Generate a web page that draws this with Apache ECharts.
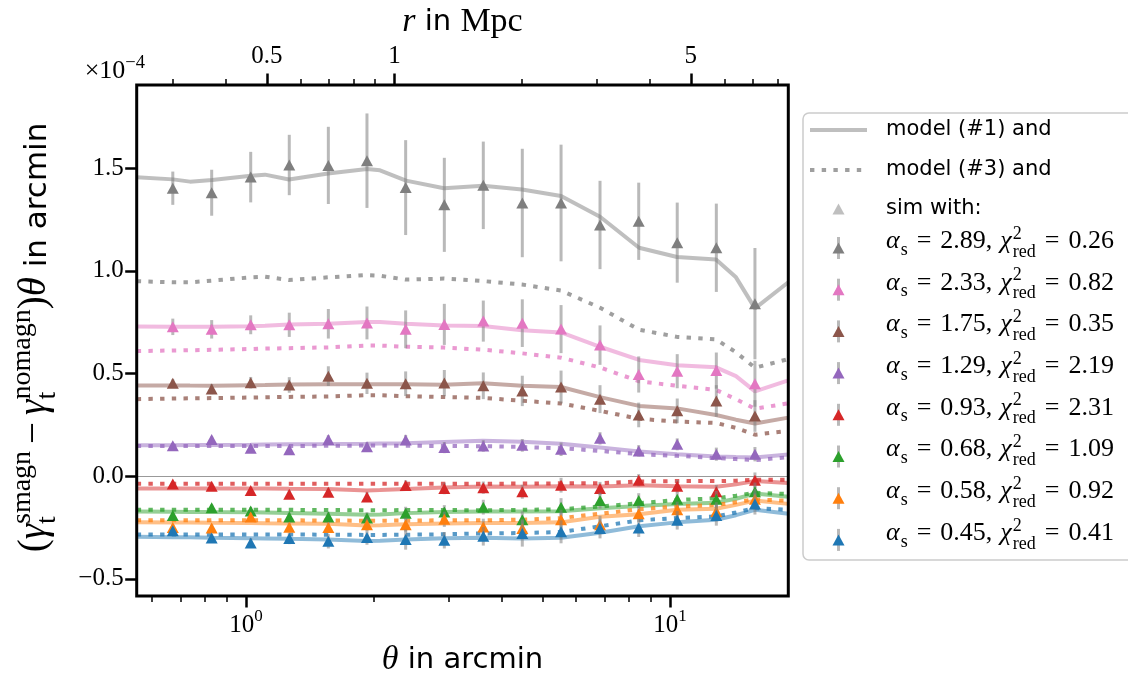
<!DOCTYPE html>
<html><head><meta charset="utf-8">
<script src="https://cdn.jsdelivr.net/npm/echarts@6/dist/echarts.min.js"></script>
<style>html,body{margin:0;padding:0;background:#fff}#c{width:1128px;height:682px}</style>
</head><body><div id="c"></div>
<script>
// ---------------- data ----------------
const thetaSim = [0.672, 0.830, 1.026, 1.265, 1.564, 1.929, 2.380, 2.936, 3.628, 4.484, 5.534, 6.838, 8.437, 10.40, 12.86, 15.86];
const thetaModel = [0.5524, 0.6727, 0.7377, 0.8316, 1.0276, 1.1087, 1.2632, 1.5612, 1.9293, 2.0703, 2.3845, 2.9309, 3.6224, 4.4771, 5.5336, 6.8391, 8.4525, 10.388, 12.838, 14.309, 15.865, 19.01];

const alphaLabels = ['2.89', '2.33', '1.75', '1.29', '0.93', '0.68', '0.58', '0.45'];
const chi2Labels  = ['0.26', '0.82', '0.35', '2.19', '2.31', '1.09', '0.92', '0.41'];
const colors = ['#7f7f7f', '#e377c2', '#8c564b', '#9467bd', '#d62728', '#2ca02c', '#ff7f0e', '#1f77b4'];

const sim_289 = [1.402,1.380,1.456,1.515,1.513,1.536,1.405,1.321,1.416,1.330,1.330,1.223,1.241,1.137,1.112,0.840];
const err_289 = [0.081,0.112,0.123,0.147,0.188,0.230,0.231,0.229,0.213,0.264,0.284,0.215,0.188,0.195,0.215,0.271];
const sim_233 = [0.727,0.715,0.737,0.737,0.742,0.746,0.715,0.739,0.755,0.745,0.716,0.638,0.495,0.511,0.514,0.450];
const err_233 = [0.040,0.045,0.046,0.059,0.072,0.080,0.092,0.100,0.100,0.116,0.117,0.096,0.088,0.083,0.088,0.112];
const sim_175 = [0.452,0.424,0.455,0.444,0.487,0.452,0.450,0.453,0.440,0.415,0.434,0.375,0.298,0.318,0.366,0.293];
const err_175 = [0.020,0.025,0.028,0.038,0.048,0.052,0.060,0.064,0.065,0.074,0.080,0.068,0.060,0.060,0.077,0.077];
const sim_129 = [0.148,0.179,0.136,0.128,0.179,0.143,0.176,0.139,0.147,0.150,0.131,0.184,0.123,0.155,0.107,0.107];
const err_129 = [0.012,0.014,0.016,0.018,0.020,0.022,0.025,0.027,0.028,0.031,0.033,0.030,0.028,0.029,0.032,0.035];
const sim_093 = [-0.038,-0.049,-0.070,-0.088,-0.078,-0.101,-0.046,-0.060,-0.056,-0.076,-0.044,-0.060,-0.020,-0.049,-0.076,-0.020];
const err_093 = [0.012,0.015,0.017,0.019,0.021,0.024,0.026,0.028,0.030,0.034,0.036,0.032,0.030,0.030,0.034,0.038];
const sim_068 = [-0.191,-0.154,-0.170,-0.199,-0.199,-0.204,-0.180,-0.175,-0.151,-0.212,-0.151,-0.119,-0.119,-0.113,-0.113,-0.076];
const err_068 = [0.013,0.016,0.019,0.022,0.025,0.028,0.031,0.034,0.036,0.041,0.044,0.039,0.036,0.036,0.041,0.045];
const sim_058 = [-0.250,-0.253,-0.199,-0.249,-0.250,-0.236,-0.236,-0.210,-0.247,-0.255,-0.212,-0.236,-0.183,-0.164,-0.172,-0.112];
const err_058 = [0.014,0.017,0.020,0.024,0.027,0.030,0.034,0.037,0.040,0.045,0.048,0.043,0.040,0.040,0.045,0.050];
const sim_045 = [-0.266,-0.301,-0.325,-0.304,-0.317,-0.299,-0.309,-0.312,-0.293,-0.279,-0.271,-0.255,-0.252,-0.215,-0.191,-0.135];
const err_045 = [0.015,0.019,0.023,0.027,0.035,0.035,0.049,0.040,0.045,0.064,0.056,0.048,0.044,0.045,0.050,0.052];

const model1_289 = [1.455,1.445,1.434,1.442,1.463,1.468,1.444,1.474,1.495,1.489,1.439,1.402,1.414,1.396,1.364,1.263,1.112,1.067,1.055,0.968,0.817,0.944];
const model3_289 = [0.949,0.944,0.944,0.952,0.968,0.971,0.955,0.968,0.979,0.976,0.957,0.962,0.950,0.933,0.904,0.820,0.713,0.678,0.666,0.603,0.528,0.570];
const model1_233 = [0.729,0.727,0.727,0.727,0.730,0.732,0.738,0.742,0.750,0.750,0.742,0.733,0.731,0.710,0.700,0.630,0.566,0.540,0.530,0.487,0.413,0.466];
const model3_233 = [0.609,0.612,0.613,0.615,0.619,0.621,0.623,0.627,0.636,0.636,0.630,0.626,0.616,0.598,0.577,0.529,0.462,0.440,0.420,0.375,0.328,0.355];
const model1_175 = [0.442,0.442,0.441,0.440,0.443,0.444,0.446,0.448,0.448,0.448,0.448,0.445,0.452,0.440,0.434,0.385,0.342,0.330,0.298,0.275,0.256,0.285];
const model3_175 = [0.375,0.378,0.379,0.380,0.383,0.384,0.386,0.388,0.394,0.394,0.389,0.385,0.381,0.367,0.354,0.318,0.279,0.266,0.259,0.235,0.202,0.220];
const model1_129 = [0.150,0.151,0.152,0.152,0.153,0.154,0.155,0.156,0.158,0.159,0.160,0.166,0.172,0.167,0.158,0.139,0.120,0.107,0.096,0.093,0.091,0.105];
const model3_129 = [0.147,0.147,0.147,0.147,0.147,0.147,0.147,0.148,0.149,0.149,0.148,0.147,0.146,0.142,0.136,0.123,0.107,0.099,0.088,0.083,0.078,0.092];
const model1_093 = [-0.060,-0.060,-0.060,-0.060,-0.060,-0.060,-0.061,-0.062,-0.070,-0.068,-0.063,-0.055,-0.050,-0.052,-0.049,-0.050,-0.044,-0.049,-0.052,-0.040,-0.024,-0.033];
const model3_093 = [-0.037,-0.037,-0.037,-0.037,-0.037,-0.037,-0.037,-0.037,-0.037,-0.037,-0.037,-0.037,-0.037,-0.036,-0.035,-0.034,-0.026,-0.024,-0.024,-0.022,-0.018,-0.018];
const model1_068 = [-0.172,-0.173,-0.174,-0.175,-0.176,-0.177,-0.179,-0.183,-0.188,-0.187,-0.180,-0.175,-0.172,-0.172,-0.171,-0.156,-0.145,-0.135,-0.129,-0.110,-0.085,-0.100];
const model3_068 = [-0.164,-0.164,-0.164,-0.164,-0.164,-0.164,-0.164,-0.165,-0.166,-0.166,-0.165,-0.165,-0.166,-0.164,-0.161,-0.148,-0.132,-0.116,-0.108,-0.095,-0.081,-0.087];
const model1_058 = [-0.225,-0.226,-0.226,-0.227,-0.228,-0.229,-0.230,-0.232,-0.240,-0.239,-0.234,-0.231,-0.228,-0.228,-0.225,-0.198,-0.186,-0.164,-0.159,-0.140,-0.119,-0.135];
const model3_058 = [-0.215,-0.215,-0.215,-0.215,-0.215,-0.215,-0.215,-0.216,-0.217,-0.217,-0.216,-0.215,-0.215,-0.212,-0.204,-0.183,-0.161,-0.148,-0.140,-0.127,-0.113,-0.120];
const model1_045 = [-0.295,-0.297,-0.298,-0.300,-0.302,-0.303,-0.305,-0.308,-0.316,-0.315,-0.308,-0.302,-0.300,-0.304,-0.300,-0.276,-0.244,-0.225,-0.212,-0.190,-0.164,-0.183];
const model3_045 = [-0.284,-0.284,-0.284,-0.284,-0.284,-0.284,-0.284,-0.285,-0.286,-0.286,-0.285,-0.283,-0.279,-0.277,-0.272,-0.244,-0.215,-0.204,-0.196,-0.177,-0.156,-0.164];

// axes
const THETA_MIN = 0.5524, THETA_MAX = 19.01;
const ARCMIN_PER_MPC = 2.239;
const Y_MIN = -0.584, Y_MAX = 1.905;
const xMajorTicks = [1, 10];
const xMinorTicks = [0.6, 0.7, 0.8, 0.9, 2, 3, 4, 5, 6, 7, 8, 9];
const rMajorTicks = [0.5, 1, 5];
const rMinorTicks = [0.3, 0.4, 0.6, 0.7, 0.8, 0.9, 2, 3, 4, 6, 7, 8];
const yTicks = [-0.5, 0, 0.5, 1, 1.5];
const yTickLabels = ['\u22120.5', '0.0', '0.5', '1.0', '1.5'];

const sims = [sim_289, sim_233, sim_175, sim_129, sim_093, sim_068, sim_058, sim_045];
const errs = [err_289, err_233, err_175, err_129, err_093, err_068, err_058, err_045];
const model1 = [model1_289, model1_233, model1_175, model1_129, model1_093, model1_068, model1_058, model1_045];
const model3 = [model3_289, model3_233, model3_175, model3_129, model3_093, model3_068, model3_058, model3_045];

// ---------------- helpers ----------------
const SERIF = '"Liberation Serif","DejaVu Serif",serif';
const SANS = '"DejaVu Sans","Noto Sans",sans-serif';
const MID = 0.34;
function rgba(hex, a) {
  const n = parseInt(hex.slice(1), 16);
  return 'rgba(' + (n >> 16) + ',' + ((n >> 8) & 255) + ',' + (n & 255) + ',' + a + ')';
}
const mctx = document.createElement('canvas').getContext('2d');
function measure(t, size, fam, style) {
  mctx.font = (style || 'normal') + ' ' + size + 'px ' + fam;
  return mctx.measureText(t).width;
}
function mathText(pieces, x0, base, fill) {
  const els = []; let x = x0;
  pieces.forEach(p => {
    const grp = p.stack || [p]; let adv = 0;
    grp.forEach(q => {
      const size = q.size, fam = q.fam || SERIF, style = q.style || 'normal';
      els.push({type: 'text', x: x, y: base + (q.dy || 0) - MID * size, silent: true, z: 100,
        style: {text: q.t, fontSize: size, fontFamily: fam, fontStyle: style, fill: fill || '#000',
                align: 'left', verticalAlign: 'middle'}});
      adv = Math.max(adv, measure(q.t, size, fam, style));
    });
    x += adv + (p.gap || 0);
  });
  return {els: els, width: x - x0};
}

// ---------------- series ----------------
const series = [];
for (let i = 0; i < 8; i++) {
  const s1 = {
    type: 'line', xAxisIndex: 0, yAxisIndex: 0, silent: true, symbol: 'none', z: 2,
    data: thetaModel.map((t, j) => [t, model1[i][j]]),
    lineStyle: {color: rgba(colors[i], 0.5), width: 4}
  };
  if (i === 0) {
    s1.markLine = {silent: true, symbol: 'none', label: {show: false},
      lineStyle: {color: '#999999', width: 1.2, type: 'solid'}, data: [{yAxis: 0}]};
  }
  series.push(s1);
  series.push({
    type: 'line', xAxisIndex: 0, yAxisIndex: 0, silent: true, symbol: 'none', z: 3,
    data: thetaModel.map((t, j) => [t, model3[i][j]]),
    lineStyle: {color: rgba(colors[i], 0.75), width: 4, type: [4.4, 7.3], cap: 'butt'}
  });
}
for (let i = 0; i < 8; i++) {
  series.push({
    type: 'custom', xAxisIndex: 0, yAxisIndex: 0, silent: true, z: 10 + 2 * i,
    data: thetaSim.map((t, j) => [t, sims[i][j], errs[i][j]]),
    renderItem: function (params, api) {
      const x = api.value(0), y = api.value(1), e = api.value(2);
      const p1 = api.coord([x, y - e]), p2 = api.coord([x, y + e]);
      return {type: 'line', shape: {x1: p1[0], y1: p1[1], x2: p2[0], y2: p2[1]},
              style: {stroke: 'rgba(127,127,127,0.55)', lineWidth: 3}};
    }
  });
  series.push({
    type: 'scatter', xAxisIndex: 0, yAxisIndex: 0, silent: true, z: 11 + 2 * i,
    symbol: 'triangle', symbolSize: [12, 11],
    itemStyle: {color: colors[i], opacity: 1},
    data: thetaSim.map((t, j) => [t, sims[i][j]])
  });
}

// ---------------- graphic: y label, x10^-4, legend ----------------
const graphic = [];
const yl = mathText([
  {t: '(', size: 39},
  {t: '\u03b3', size: 39, style: 'italic'},
  {stack: [{t: 'smagn', size: 28, dy: -16}, {t: 't', size: 28, dy: 9}], gap: 7},
  {t: '\u2212', size: 39, gap: 7},
  {t: '\u03b3', size: 39, style: 'italic'},
  {stack: [{t: 'nomagn', size: 28, dy: -16}, {t: 't', size: 28, dy: 9}]},
  {t: ')', size: 39},
  {t: '\u03b8', size: 39, style: 'italic'},
  {t: ' in arcmin', size: 31, fam: SANS}
], 0, 0);
yl.els.forEach(e => { e.x -= yl.width / 2; });
graphic.push({type: 'group', x: 48, y: 337.5, rotation: Math.PI / 2, children: yl.els});

const ex = mathText([{t: '\u00d710', size: 26}, {t: '\u22124', size: 18.5, dy: -11}], 0, 80);
ex.els.forEach(e => { e.x += 145 - ex.width; });
ex.els.forEach(e => graphic.push(e));

// legend
graphic.push({type: 'rect', silent: true, z: 90,
  shape: {x: 803, y: 113, width: 340, height: 447, r: 6},
  style: {fill: 'rgba(255,255,255,0.85)', stroke: '#cccccc', lineWidth: 1.5}});
const legendRowY = [130, 170, 209, 248, 289.7, 331.4, 373.1, 414.8, 456.5, 498.2, 539.9];
const HX0 = 810, HX1 = 867, HXC = 838.5, TX = 886;
function tri(cx, cy, color) {
  return {type: 'polygon', silent: true, z: 101,
    shape: {points: [[cx, cy - 5.5], [cx + 6, cy + 5.5], [cx - 6, cy + 5.5]]}, style: {fill: color}};
}
graphic.push({type: 'line', silent: true, z: 100, shape: {x1: HX0, y1: legendRowY[0], x2: HX1, y2: legendRowY[0]},
  style: {stroke: 'rgba(127,127,127,0.5)', lineWidth: 4}});
graphic.push({type: 'line', silent: true, z: 100, shape: {x1: HX0, y1: legendRowY[1], x2: HX1, y2: legendRowY[1]},
  style: {stroke: 'rgba(127,127,127,0.75)', lineWidth: 4, lineDash: [4.4, 7.3], lineCap: 'butt'}});
graphic.push(tri(HXC, legendRowY[2], 'rgba(127,127,127,0.5)'));
['model (#1) and', 'model (#3) and', 'sim with:'].forEach((t, k) => {
  mathText([{t: t, size: 21, fam: SANS}], TX, legendRowY[k] + 7).els.forEach(e => graphic.push(e));
});
for (let i = 0; i < 8; i++) {
  const y = legendRowY[3 + i];
  graphic.push({type: 'line', silent: true, z: 100, shape: {x1: HXC, y1: y - 11, x2: HXC, y2: y + 11},
    style: {stroke: 'rgba(127,127,127,0.55)', lineWidth: 3}});
  graphic.push(tri(HXC, y, colors[i]));
  mathText([
    {t: '\u03b1', size: 26, style: 'italic', gap: 1},
    {t: 's', size: 18, dy: 6, gap: 9},
    {t: '=', size: 26, gap: 9},
    {t: alphaLabels[i] + ',', size: 26, gap: 8},
    {t: '\u03c7', size: 26, style: 'italic', gap: 1},
    {stack: [{t: '2', size: 18, dy: -10}, {t: 'red', size: 18, dy: 8}], gap: 9},
    {t: '=', size: 26, gap: 9},
    {t: chi2Labels[i], size: 26}
  ], TX, y + 2).els.forEach(e => graphic.push(e));
}

// ---------------- option ----------------
const tickStyleMajor = {color: '#000', width: 2.5};
const tickStyleMinor = {color: '#000', width: 1.5};
const option = {
  animation: false,
  backgroundColor: '#fff',
  grid: {left: 136.7, top: 78, width: 651.6, height: 519.7, show: true, borderColor: '#000',
         borderWidth: 3, backgroundColor: 'rgba(0,0,0,0)', z: 50, containLabel: false},
  xAxis: [
    {type: 'log', logBase: 10, position: 'bottom', min: THETA_MIN, max: THETA_MAX,
     axisLine: {show: false, onZero: false}, splitLine: {show: false},
     axisTick: {show: true, customValues: xMajorTicks, length: 11.5, lineStyle: tickStyleMajor},
     axisLabel: {customValues: xMajorTicks, margin: 12, color: '#000',
       formatter: v => '{b|10}{s|' + Math.round(Math.log10(v)) + '}',
       rich: {b: {fontSize: 25, fontFamily: SERIF, color: '#000'},
              s: {fontSize: 17, fontFamily: SERIF, color: '#000', padding: [0, 0, 18, 0]}}},
     name: '{t|\u03b8}{n| in arcmin}', nameLocation: 'middle', nameGap: 44,
     nameTextStyle: {rich: {t: {fontSize: 34, fontStyle: 'italic', fontFamily: SERIF, color: '#000'},
                            n: {fontSize: 29, fontFamily: SANS, color: '#000'}}}},
    {type: 'log', logBase: 10, position: 'bottom', min: THETA_MIN, max: THETA_MAX,
     axisLine: {show: false, onZero: false}, splitLine: {show: false},
     axisTick: {show: true, customValues: xMinorTicks, length: 6, lineStyle: tickStyleMinor},
     axisLabel: {show: false}},
    {type: 'log', logBase: 10, position: 'top', min: THETA_MIN / ARCMIN_PER_MPC, max: THETA_MAX / ARCMIN_PER_MPC,
     axisLine: {show: false, onZero: false}, splitLine: {show: false},
     axisTick: {show: true, customValues: rMajorTicks, length: 11.5, lineStyle: tickStyleMajor},
     axisLabel: {customValues: rMajorTicks, margin: 16, color: '#000', fontSize: 25, fontFamily: SERIF,
       formatter: v => String(v)},
     name: '{r|r}{n| in }{m|Mpc}', nameLocation: 'middle', nameGap: 44,
     nameTextStyle: {rich: {r: {fontSize: 34, fontStyle: 'italic', fontFamily: SERIF, color: '#000'},
                            n: {fontSize: 29, fontFamily: SANS, color: '#000'},
                            m: {fontSize: 34, fontFamily: SERIF, color: '#000'}}}},
    {type: 'log', logBase: 10, position: 'top', min: THETA_MIN / ARCMIN_PER_MPC, max: THETA_MAX / ARCMIN_PER_MPC,
     axisLine: {show: false, onZero: false}, splitLine: {show: false},
     axisTick: {show: true, customValues: rMinorTicks, length: 6, lineStyle: tickStyleMinor},
     axisLabel: {show: false}}
  ],
  yAxis: [
    {type: 'value', min: Y_MIN, max: Y_MAX, position: 'left',
     axisLine: {show: false, onZero: false}, splitLine: {show: false},
     axisTick: {show: true, customValues: yTicks, length: 11.5, lineStyle: tickStyleMajor},
     axisLabel: {customValues: yTicks, margin: 13, color: '#000', fontSize: 25, fontFamily: SERIF,
       formatter: v => yTickLabels[yTicks.findIndex(t => Math.abs(t - v) < 1e-9)]}}
  ],
  series: series,
  graphic: graphic
};
const chart = echarts.init(document.getElementById('c'), null, {renderer: 'canvas'});
chart.setOption(option);
</script></body></html>
